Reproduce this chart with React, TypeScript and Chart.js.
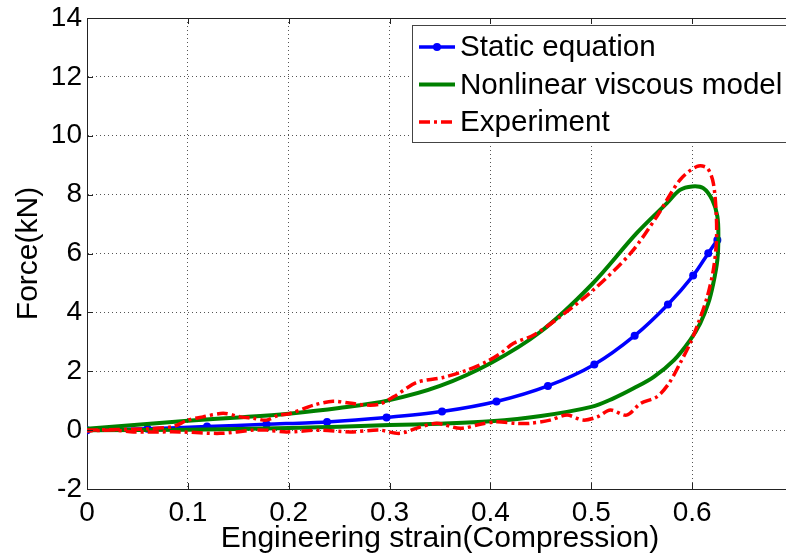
import React, { useEffect, useRef } from "react";
import { Chart, registerables } from "chart.js";

Chart.register(...registerables);

// ---- Data ----
const staticStrain = [0, 0.06, 0.119, 0.178, 0.238, 0.297, 0.352, 0.406, 0.457, 0.503, 0.543, 0.576, 0.601, 0.616, 0.625];
const staticForce = [0, 0.05, 0.12, 0.2, 0.28, 0.43, 0.63, 0.97, 1.5, 2.23, 3.21, 4.27, 5.25, 6.01, 6.46];

const viscousStrain = [0, 0.05, 0.1, 0.15, 0.2, 0.25, 0.3, 0.35, 0.4, 0.45, 0.5, 0.545, 0.575, 0.588, 0.6, 0.611, 0.62, 0.625, 0.626, 0.625, 0.621, 0.616, 0.608, 0.598, 0.582, 0.562, 0.542, 0.522, 0.5, 0.45, 0.4, 0.35, 0.3, 0.2, 0.1, 0];
const viscousForce = [0.05, 0.18, 0.32, 0.43, 0.56, 0.75, 1.02, 1.5, 2.27, 3.35, 4.93, 6.69, 7.71, 8.16, 8.28, 8.22, 7.82, 7.26, 6.57, 5.78, 4.99, 4.31, 3.63, 3.06, 2.38, 1.81, 1.42, 1.08, 0.79, 0.48, 0.3, 0.22, 0.17, 0.07, 0.01, 0];

const expStrain = [0, 0.03, 0.06, 0.085, 0.1, 0.115, 0.135, 0.152, 0.165, 0.178, 0.19, 0.2, 0.225, 0.244, 0.26, 0.277, 0.29, 0.304, 0.327, 0.353, 0.377, 0.396, 0.41, 0.423, 0.443, 0.469, 0.502, 0.539, 0.565, 0.588, 0.605, 0.615, 0.621, 0.624, 0.624, 0.621, 0.615, 0.606, 0.598, 0.588, 0.577, 0.565, 0.549, 0.535, 0.519, 0.506, 0.492, 0.476, 0.459, 0.439, 0.426, 0.406, 0.39, 0.37, 0.347, 0.33, 0.31, 0.29, 0.261, 0.231, 0.198, 0.178, 0.165, 0.132, 0.092, 0.046, 0.026, 0];
const expForce = [0, 0.02, 0.05, 0.12, 0.34, 0.45, 0.57, 0.45, 0.4, 0.34, 0.51, 0.55, 0.85, 0.98, 0.92, 0.85, 0.88, 1.13, 1.62, 1.79, 2.04, 2.32, 2.61, 2.95, 3.23, 3.85, 4.76, 6.01, 7.26, 8.5, 8.96, 8.9, 8.39, 7.26, 6.35, 5.44, 4.53, 3.63, 2.95, 2.27, 1.59, 1.13, 0.91, 0.51, 0.68, 0.45, 0.34, 0.51, 0.34, 0.23, 0.23, 0.28, 0.2, 0.06, 0.23, 0.1, -0.11, 0.0, -0.06, 0.0, -0.06, 0.0, 0.0, -0.11, -0.06, -0.06, 0.0, -0.03];

const xTicks = [0, 0.1, 0.2, 0.3, 0.4, 0.5, 0.6];
const yTicks = [-2, 0, 2, 4, 6, 8, 10, 12, 14];

const labels = ["Static equation", "Nonlinear viscous model", "Experiment"];
const xTitle = "Engineering strain(Compression)";
const yTitle = "Force(kN)";

const FONT = "'Liberation Sans', Arial, Helvetica, sans-serif";

const toPoints = (xs: number[], ys: number[]) => xs.map((x, i) => ({ x, y: ys[i] }));

const frameAndLegend = {
  id: "frameAndLegend",
  afterDatasetsDraw(chart: any) {
    const { ctx, chartArea, scales } = chart;
    const { left, right, top, bottom } = chartArea;
    ctx.save();
    ctx.strokeStyle = "#222";
    ctx.lineWidth = 1;
    ctx.setLineDash([]);
    ctx.beginPath();
    ctx.moveTo(left, top + 0.5);
    ctx.lineTo(right, top + 0.5);
    ctx.stroke();
    const tl = 6;
    ctx.beginPath();
    xTicks.forEach((v) => {
      const px = Math.round(scales.x.getPixelForValue(v)) + 0.5;
      ctx.moveTo(px, bottom);
      ctx.lineTo(px, bottom - tl);
      ctx.moveTo(px, top);
      ctx.lineTo(px, top + tl);
    });
    yTicks.forEach((v) => {
      const py = Math.round(scales.y.getPixelForValue(v)) + 0.5;
      ctx.moveTo(left, py);
      ctx.lineTo(left + tl, py);
    });
    ctx.stroke();

    const bx = 412.5, by = 25.5, bw = 420, bh = 117;
    ctx.fillStyle = "#ffffff";
    ctx.fillRect(bx, by, bw, bh);
    ctx.strokeStyle = "#444";
    ctx.lineWidth = 1;
    ctx.strokeRect(bx, by, bw, bh);
    const rows = [47, 84.5, 122];
    chart.data.datasets.forEach((ds: any, i: number) => {
      const y = rows[i];
      ctx.save();
      ctx.strokeStyle = ds.borderColor;
      ctx.lineWidth = ds.borderWidth;
      ctx.setLineDash(ds.borderDash || []);
      ctx.beginPath();
      ctx.moveTo(419, y);
      ctx.lineTo(455, y);
      ctx.stroke();
      if (ds.pointRadius > 0) {
        ctx.setLineDash([]);
        ctx.fillStyle = ds.borderColor;
        ctx.beginPath();
        ctx.arc(437, y, ds.pointRadius, 0, Math.PI * 2);
        ctx.fill();
      }
      ctx.restore();
      ctx.fillStyle = "#000";
      ctx.font = `29.6px ${FONT}`;
      ctx.textAlign = "left";
      ctx.textBaseline = "middle";
      ctx.fillText(ds.label, 460, y + 1);
    });
    ctx.restore();
  },
};

export default function App() {
  const ref = useRef<HTMLCanvasElement | null>(null);

  useEffect(() => {
    if (!ref.current) return;
    const chart = new Chart(ref.current, {
      type: "scatter",
      data: {
        datasets: [
          {
            label: labels[0],
            data: toPoints(staticStrain, staticForce),
            showLine: true,
            borderColor: "#0000ff",
            backgroundColor: "#0000ff",
            borderWidth: 3.5,
            pointRadius: 4,
            pointBorderWidth: 0,
            tension: 0.3,
            order: 2,
          },
          {
            label: labels[1],
            data: toPoints(viscousStrain, viscousForce),
            showLine: true,
            borderColor: "#008000",
            backgroundColor: "#008000",
            borderWidth: 4,
            pointRadius: 0,
            tension: 0.35,
            order: 1,
          },
          {
            label: labels[2],
            data: toPoints(expStrain, expForce),
            showLine: true,
            borderColor: "#ff0000",
            backgroundColor: "#ff0000",
            borderWidth: 3.5,
            borderDash: [11, 4, 3, 4],
            pointRadius: 0,
            tension: 0.3,
            order: 0,
          },
        ],
      },
      options: {
        animation: false,
        responsive: false,
        devicePixelRatio: 1,
        layout: { padding: { left: 0, top: 18, right: 7, bottom: 0 } },
        plugins: { legend: { display: false }, tooltip: { enabled: false } },
        scales: {
          x: {
            type: "linear",
            min: 0,
            max: 0.7,
            afterFit: (s: any) => {
              s.height = 71;
              s.paddingLeft = 0;
              s.paddingRight = 0;
            },
            afterBuildTicks: (s: any) => {
              s.ticks = [...xTicks, 0.7].map((v) => ({ value: v }));
            },
            ticks: {
              autoSkip: false,
              maxRotation: 0,
              padding: 7,
              color: "#000",
              font: { family: FONT, size: 28 },
              callback: (v: any) => (xTicks.some((t) => Math.abs(t - v) < 1e-9) ? String(Math.round(v * 10) / 10) : ""),
            },
            grid: { color: "#555", lineWidth: 1, drawTicks: false },
            border: { display: true, color: "#222", width: 1, dash: [1, 3] },
            title: {
              display: true,
              text: xTitle,
              color: "#000",
              font: { family: FONT, size: 30 },
              padding: { top: 0, bottom: 3 },
            },
          },
          y: {
            type: "linear",
            min: -2,
            max: 14,
            afterFit: (s: any) => {
              s.width = 87;
              s.paddingTop = 0;
              s.paddingBottom = 0;
            },
            afterBuildTicks: (s: any) => {
              s.ticks = yTicks.map((v) => ({ value: v }));
            },
            ticks: {
              autoSkip: false,
              padding: 5,
              color: "#000",
              font: { family: FONT, size: 28 },
              callback: (v: any) => String(v),
            },
            grid: { color: "#555", lineWidth: 1, drawTicks: false },
            border: { display: true, color: "#222", width: 1, dash: [1, 3] },
            title: {
              display: true,
              text: yTitle,
              color: "#000",
              font: { family: FONT, size: 30 },
              padding: { top: 11, bottom: 0 },
            },
          },
        },
      },
      plugins: [frameAndLegend],
    });
    return () => chart.destroy();
  }, []);

  return (
    <div style={{ position: "fixed", left: 0, top: 0, width: 786, height: 560, overflow: "hidden", background: "#fff" }}>
      <canvas ref={ref} width={800} height={560} style={{ display: "block" }} />
    </div>
  );
}
